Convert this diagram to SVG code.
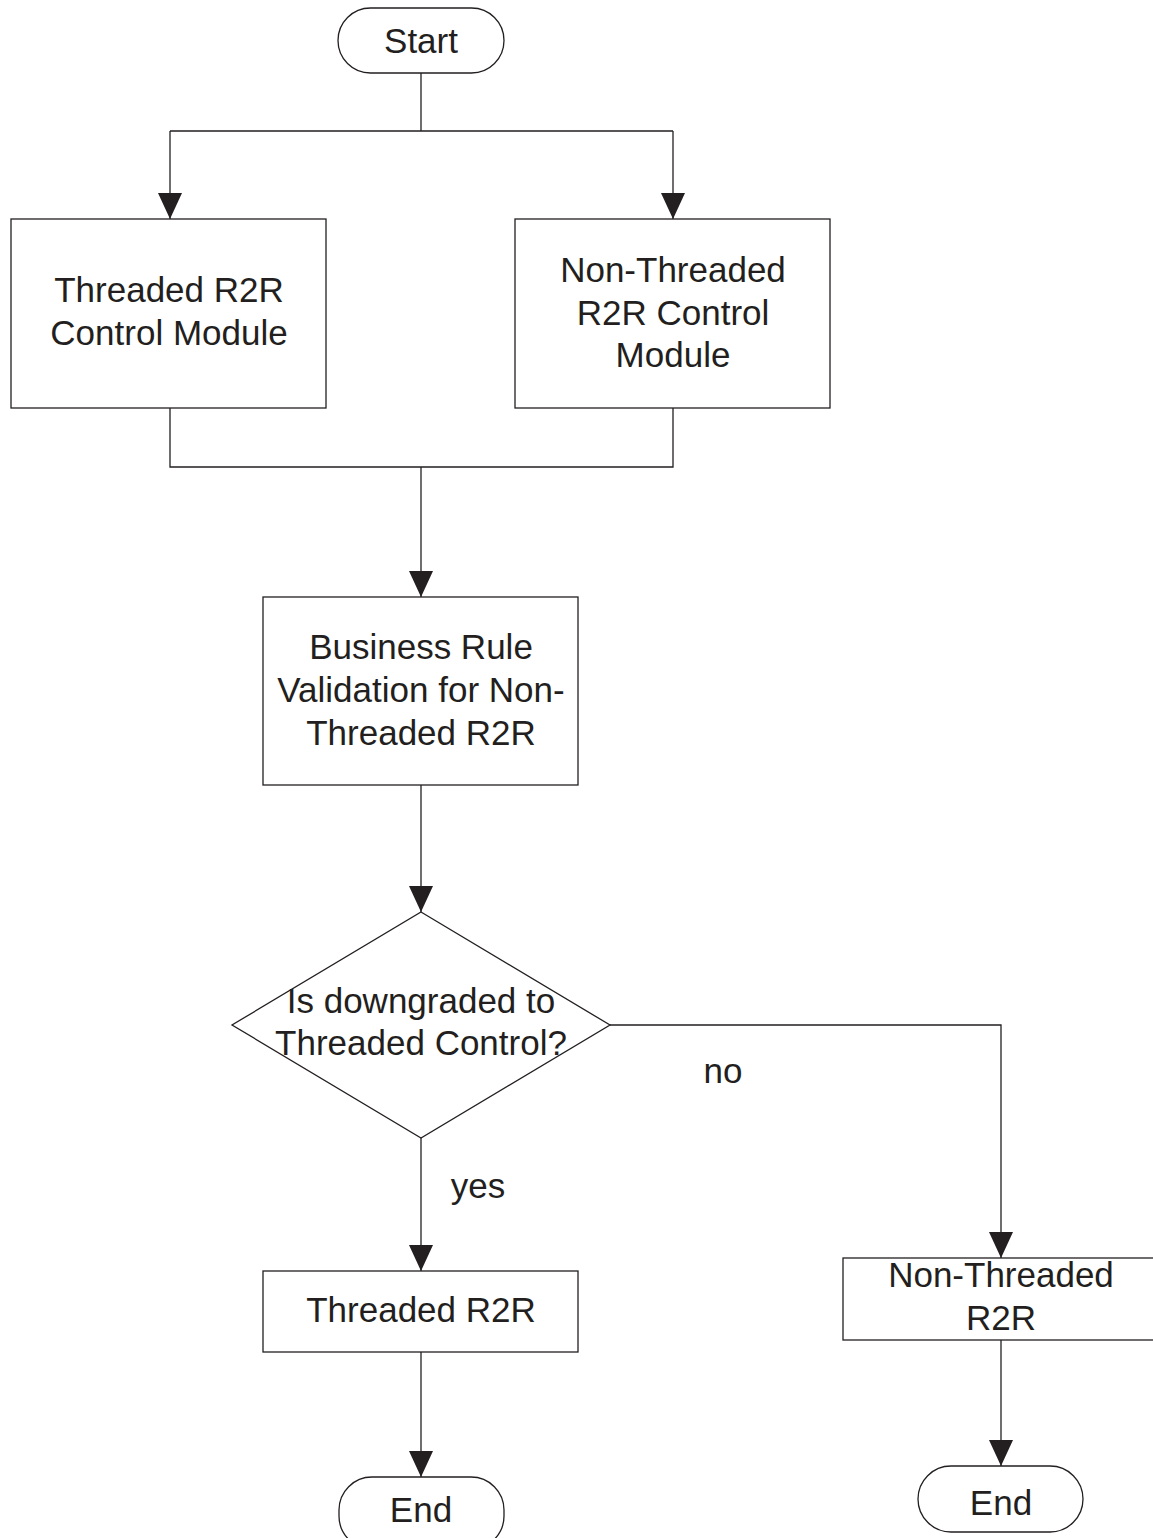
<svg xmlns="http://www.w3.org/2000/svg" width="1153" height="1538" viewBox="0 0 1153 1538">
  <style>
    .shape { fill: #ffffff; stroke: #231f20; stroke-width: 1.3; }
    .wire { fill: none; stroke: #231f20; stroke-width: 1.3; }
    .label { font-family: "Liberation Sans", Arial, sans-serif; font-size: 35px; fill: #231f20; text-anchor: middle; }
  </style>
  <defs>
    <!-- solid triangular arrowhead, tip at the end of the path -->
    <marker id="arrow" markerUnits="userSpaceOnUse" markerWidth="27" markerHeight="25" viewBox="0 0 27 25" refX="26" refY="12.5" orient="auto">
      <path d="M0 0.5 L26 12.5 L0 24.5 Z" fill="#231f20"/>
    </marker>
  </defs>
  <rect width="1153" height="1538" fill="#ffffff"/>

  <!-- connectors -->
  <g id="connectors">
    <path class="wire" d="M421 73 V131 M170 131 H673"/>
    <path class="wire" d="M170 131 V219" marker-end="url(#arrow)"/>
    <path class="wire" d="M673 131 V219" marker-end="url(#arrow)"/>
    <path class="wire" d="M170 408 V467 H673 V408"/>
    <path class="wire" d="M421 467 V597" marker-end="url(#arrow)"/>
    <path class="wire" d="M421 785 V912" marker-end="url(#arrow)"/>
    <path class="wire" d="M610 1025 H1001 V1258" marker-end="url(#arrow)"/>
    <path class="wire" d="M421 1138 V1271" marker-end="url(#arrow)"/>
    <path class="wire" d="M421 1352 V1477" marker-end="url(#arrow)"/>
    <path class="wire" d="M1001 1340 V1466" marker-end="url(#arrow)"/>
    <text class="label" x="723" y="1083">no</text>
    <text class="label" x="478" y="1198">yes</text>
  </g>

  <g id="start">
    <rect class="shape" x="338" y="8" width="166" height="65" rx="32.5" ry="32.5"/>
    <text class="label" x="421" y="53">Start</text>
  </g>

  <g id="threaded-module">
    <rect class="shape" x="11" y="219" width="315" height="189"/>
    <text class="label" x="169" y="302">Threaded R2R</text>
    <text class="label" x="169" y="345">Control Module</text>
  </g>

  <g id="non-threaded-module">
    <rect class="shape" x="515" y="219" width="315" height="189"/>
    <text class="label" x="673" y="282">Non-Threaded</text>
    <text class="label" x="673" y="325">R2R Control</text>
    <text class="label" x="673" y="367">Module</text>
  </g>

  <g id="business-rule">
    <rect class="shape" x="263" y="597" width="315" height="188"/>
    <text class="label" x="421" y="659">Business Rule</text>
    <text class="label" x="421" y="702">Validation for Non-</text>
    <text class="label" x="421" y="745">Threaded R2R</text>
  </g>

  <g id="decision">
    <polygon class="shape" points="421,912 610,1025 421,1138 232,1025"/>
    <text class="label" x="421" y="1013">Is downgraded to</text>
    <text class="label" x="421" y="1055">Threaded Control?</text>
  </g>

  <g id="threaded-r2r">
    <rect class="shape" x="263" y="1271" width="315" height="81"/>
    <text class="label" x="421" y="1322">Threaded R2R</text>
  </g>

  <g id="non-threaded-r2r">
    <rect class="shape" x="843" y="1258" width="316" height="82"/>
    <text class="label" x="1001" y="1287">Non-Threaded</text>
    <text class="label" x="1001" y="1330">R2R</text>
  </g>

  <g id="end-threaded">
    <rect class="shape" x="339" y="1477" width="165" height="72" rx="33" ry="33"/>
    <text class="label" x="421" y="1522">End</text>
  </g>

  <g id="end-non-threaded">
    <rect class="shape" x="918" y="1466" width="165" height="66" rx="33" ry="33"/>
    <text class="label" x="1001" y="1515">End</text>
  </g>
</svg>
